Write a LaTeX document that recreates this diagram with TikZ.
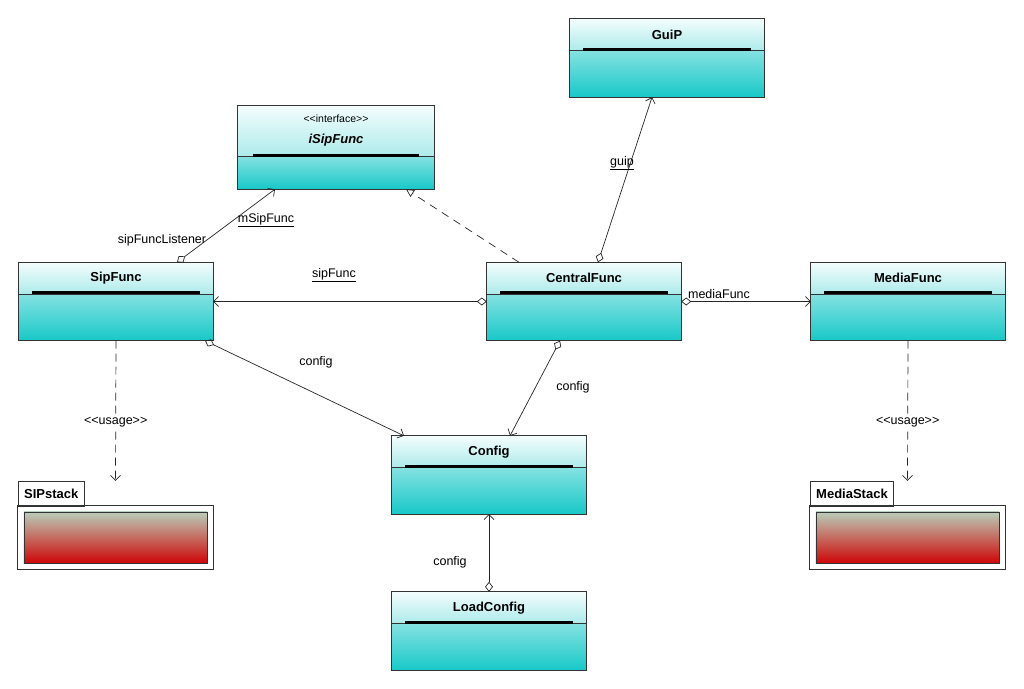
\documentclass[tikz,border=0pt]{standalone}
\usepackage{fontspec}
\setmainfont{Liberation Sans}
\usetikzlibrary{arrows.meta,calc}

\definecolor{headtop}{RGB}{244,253,253}
\definecolor{headbot}{RGB}{172,234,234}
\definecolor{bodytop}{RGB}{132,225,225}
\definecolor{bodybot}{RGB}{24,200,200}
\definecolor{stacktop}{RGB}{186,206,186}
\definecolor{stackbot}{RGB}{206,6,6}

\tikzset{
  classbox/.style={rectangle, inner sep=0pt, minimum width=194pt, minimum height=78pt},
  classname/.style={font=\fontsize{13}{15}\selectfont\bfseries, inner sep=1pt},
  boxline/.style={draw=black!80, line width=0.8pt},
  pkgbox/.style={rectangle, inner sep=0pt, minimum width=195pt, minimum height=88pt},
  pkgtab/.style={draw=black!80, line width=0.8pt, anchor=north west, inner xsep=6pt,
    minimum height=25pt, font=\fontsize{13}{15}\selectfont\bfseries},
  lbl/.style={font=\fontsize{12.5}{15}\selectfont, inner sep=1pt},
  assoc/.style={draw=black!85, line width=0.7pt,
    {Diamond[open,length=10pt,width=8pt]}-{Straight Barb[length=5pt,width=10pt]}},
  realize/.style={draw=black!85, line width=0.7pt, dash pattern=on 8pt off 6pt,
    -{Triangle[open,length=8pt,width=8pt]}},
  usage/.style={draw=black!85, line width=0.7pt, dash pattern=on 8pt off 5pt,
    -{Straight Barb[length=5pt,width=10pt]}}
}

\begin{document}
\begin{tikzpicture}[x=1pt,y=-1pt]
\useasboundingbox (0,0) rectangle (1024,688);
% Classes
\foreach \n/\x/\y/\t in {guip/667/58/GuiP, sipf/116/301.5/SipFunc,
    central/584/301.5/CentralFunc, media/908/301.5/MediaFunc,
    config/489/475/Config, load/489/631/LoadConfig} {
  \node[classbox] (\n) at (\x,\y) {};
  \shade[top color=headtop, bottom color=headbot] (\n.north west) rectangle ($(\n.north east)+(0,32)$);
  \shade[top color=bodytop, bottom color=bodybot] ($(\n.north west)+(0,32)$) rectangle (\n.south east);
  \draw[boxline] (\n.north west) rectangle (\n.south east);
  \draw[boxline] ($(\n.north west)+(0,32)$) -- ($(\n.north east)+(0,32)$);
  \fill ($(\n.north west)+(13,29)$) rectangle ($(\n.north east)+(-13,32)$);
  \node[classname] (\n-title) at ($(\n.north)+(0,16)$) {\t};
}
% Interface
\node[classbox, minimum width=196pt, minimum height=83pt] (isip) at (336,147.5) {};
\shade[top color=headtop, bottom color=headbot] (isip.north west) rectangle ($(isip.north east)+(0,51)$);
\shade[top color=bodytop, bottom color=bodybot] ($(isip.north west)+(0,51)$) rectangle (isip.south east);
\draw[boxline] (isip.north west) rectangle (isip.south east);
\draw[boxline] ($(isip.north west)+(0,51)$) -- ($(isip.north east)+(0,51)$);
\fill ($(isip.north west)+(15,48)$) rectangle ($(isip.north east)+(-15,51)$);
\node[font=\fontsize{10.5}{12}\selectfont, inner sep=1pt] (isip-stereo) at (336,119) {<{}<interface>{}>};
\node[classname, font=\fontsize{13}{15}\selectfont\bfseries\itshape] (isip-title) at (336,140) {iSipFunc};
% Packages
\foreach \n/\x/\t in {sipstack/115.5/SIPstack, mediastack/907.5/MediaStack} {
  \node[pkgbox] (\n) at (\x,525) {};
  \node[pkgtab] (\n-tab) at (\n.north west) {\t};
  \draw[boxline] ($(\n.north west)+(0,25)$) rectangle (\n.south east);
  \shadedraw[top color=stacktop, bottom color=stackbot, draw=black!80, line width=0.6pt]
    ($(\n.north west)+(6,31)$) rectangle ($(\n.south east)+(-6,-6)$);
}
% Connectors
\draw[assoc] ($(sipf.north)+(61,0)$) -- ($(isip.south)+(-61,0)$);
\draw[realize] ($(central.north)+(-65,0)$) -- ($(isip.south)+(70,0)$);
\draw[assoc] ($(central.north)+(14,0)$) -- ($(guip.south)+(-15,0)$);
\draw[assoc] (central.west) -- (sipf.east);
\draw[assoc] (central.east) -- (media.west);
\draw[assoc] ($(sipf.south)+(89,0)$) -- ($(config.north)+(-85,0)$);
\draw[assoc] ($(central.south)+(-24,0)$) -- ($(config.north)+(21,0)$);
\draw[assoc] (load.north) -- (config.south);
\draw[usage] (sipf.south) -- (sipstack.north)
  node[lbl, pos=0.58, fill=white, inner ysep=3pt] (sipf-usage) {<{}<usage>{}>};
\draw[usage] (media.south) -- (mediastack.north)
  node[lbl, pos=0.58, fill=white, inner ysep=3pt] (media-usage) {<{}<usage>{}>};
% Role names
\node[lbl] (l-listener) at (162,240) {sipFuncListener};
\node[lbl] (l-msip) at (266,220) {\underline{mSipFunc}};
\node[lbl] (l-guip) at (622,163) {\underline{guip}};
\node[lbl] (l-sipfunc) at (334,275) {\underline{sipFunc}};
\node[lbl] (l-media) at (719,294) {mediaFunc};
\node[lbl] (l-cfg1) at (316,362) {config};
\node[lbl] (l-cfg2) at (573,387) {config};
\node[lbl] (l-cfg3) at (450,562) {config};
\end{tikzpicture}
\end{document}
